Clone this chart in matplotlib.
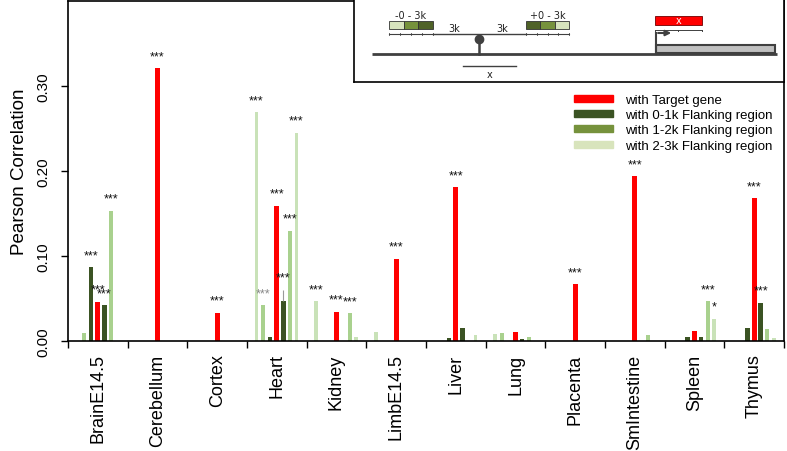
import numpy as np
import matplotlib
matplotlib.use("Agg")
import matplotlib.pyplot as plt
from matplotlib.patches import Rectangle, Patch

plt.rcParams['font.family'] = ['Liberation Sans', 'DejaVu Sans']

# data
tissues = ['BrainE14.5', 'Cerebellum', 'Cortex', 'Heart', 'Kidney', 'LimbE14.5',
           'Liver', 'Lung', 'Placenta', 'SmIntestine', 'Spleen', 'Thymus']
target = [0.046, 0.321, 0.033, 0.159, 0.0345, 0.097, 0.181, 0.011, 0.0667, 0.194, 0.0114, 0.168]
up1k = [0.087, 0, 0, 0.005, 0, 0, 0.003, 0, 0, 0, 0.0047, 0.0149]
up2k = [0.010, 0, 0, 0.042, 0, 0, 0, 0.009, 0, 0, 0, 0]
up3k = [0, 0, 0, 0.269, 0.047, 0.0106, 0, 0.0083, 0, 0, 0, 0]
down1k = [0.042, 0, 0, 0.0475, 0, 0, 0.0158, 0.0024, 0, 0, 0.0052, 0.045]
down2k = [0.153, 0, 0, 0.130, 0.0326, 0, 0, 0.0047, 0, 0.007, 0.047, 0.0138]
down3k = [0, 0, 0, 0.245, 0.005, 0, 0.0067, 0, 0, 0, 0.026, 0.003]
down1k_err = [0, 0, 0, 0.013, 0, 0, 0, 0, 0, 0, 0, 0]

# significance marks: (series, tissue index, text)
stars = [('up1k', 0, '***'), ('target', 0, '***'), ('down1k', 0, '***'), ('down2k', 0, '***'),
         ('target', 1, '***'), ('target', 2, '***'),
         ('up3k', 3, '***'), ('up2k', 3, '***'), ('target', 3, '***'), ('down1k', 3, '***'),
         ('down2k', 3, '***'), ('down3k', 3, '***'),
         ('up3k', 4, '***'), ('target', 4, '***'), ('down2k', 4, '***'),
         ('target', 5, '***'), ('target', 6, '***'), ('target', 8, '***'), ('target', 9, '***'),
         ('down2k', 10, '***'), ('down3k', 10, '*'),
         ('target', 11, '***'), ('down1k', 11, '***')]
faint_stars = [('up2k', 3)]

series = {'up3k': up3k, 'up2k': up2k, 'up1k': up1k, 'target': target,
          'down1k': down1k, 'down2k': down2k, 'down3k': down3k}

RED = '#ff0000'
DARK = '#3b5323'
LIGHT = '#a9d18e'
PALE = '#c9e2b8'
# offset, width, colour for each slot
style = {'up3k': (-0.34, 0.058, PALE), 'up2k': (-0.23, 0.067, LIGHT), 'up1k': (-0.115, 0.078, DARK),
         'target': (0.0, 0.084, RED),
         'down1k': (0.11, 0.078, DARK), 'down2k': (0.22, 0.067, LIGHT), 'down3k': (0.33, 0.058, PALE)}

W, H = 787, 452
fig = plt.figure(figsize=(W / 100, H / 100), dpi=100)
ax = fig.add_axes([68 / W, (H - 342) / H, (784 - 68) / W, 340 / H])

x = np.arange(len(tissues))
for name, vals in series.items():
    off, w, c = style[name]
    ax.bar(x + off, vals, width=w, color=c, linewidth=0)

err = np.array(down1k_err)
m = err > 0
ax.vlines(x[m] + style['down1k'][0], np.array(down1k)[m], np.array(down1k)[m] + err[m],
          color='#999999', lw=0.8)

for name, i, txt in stars:
    top = series[name][i] + (down1k_err[i] if name == 'down1k' else 0)
    col = '#888888' if (name, i) in faint_stars else '#111111'
    ax.annotate(txt, (x[i] + style[name][0], top), xytext=(0, 6.5), textcoords='offset points',
                ha='center', va='baseline', fontsize=9, color=col)

ax.set_xlim(-0.5, 11.5)
ax.set_ylim(0, 0.4)
ax.set_xticks(x)
ax.set_xticklabels(tissues, rotation=90, fontsize=13)
ax.set_xticks(np.arange(-0.5, 12, 1), minor=True)
ax.tick_params(axis='x', which='major', length=0, pad=9)
ax.tick_params(axis='x', which='minor', length=5, width=1)
ax.set_yticks([0, 0.1, 0.2, 0.3])
ax.set_yticklabels(['%.2f' % v for v in [0, 0.1, 0.2, 0.3]], rotation=90, va='center', fontsize=11)
ax.tick_params(axis='y', length=5, width=1, pad=8)
ax.set_ylabel('Pearson Correlation', fontsize=13.5, labelpad=6)
for s in ax.spines.values():
    s.set_linewidth(1.2)

handles = [Patch(color=RED), Patch(color=DARK), Patch(color='#76923c'), Patch(color='#d8e4bc')]
labels = ['with Target gene', 'with 0-1k Flanking region', 'with 1-2k Flanking region',
          'with 2-3k Flanking region']
fig.legend(handles, labels, loc='upper left', bbox_to_anchor=(562 / W, (H - 83) / H),
           frameon=False, fontsize=9.5, handlelength=3.0, handleheight=0.45,
           handletextpad=0.9, labelspacing=0.25, borderpad=0.4)

# inset schematic, drawn in pixel units
ins = fig.add_axes([354 / W, (H - 83) / H, (784 - 354) / W, 83 / H])
ins.set_xlim(354, 784)
ins.set_ylim(83, 0)
ins.set_xticks([])
ins.set_yticks([])
for s in ins.spines.values():
    s.set_linewidth(1.2)
g = '#404040'
ifont = dict(family='DejaVu Sans', fontsize=7, color='#222222')
ins.plot([372, 777], [55, 55], color=g, lw=2, solid_capstyle='butt')
ins.add_patch(Rectangle((656, 45.7), 119, 8.5, fc='#c0c0c0', ec=g, lw=1.5))
ins.plot([656, 656], [54, 34], color=g, lw=1.5)
ins.annotate('', xy=(674, 34), xytext=(655.3, 34),
             arrowprops=dict(arrowstyle='-|>', color=g, lw=1.5, mutation_scale=8))
ins.add_patch(Rectangle((655, 17.3), 46.7, 8.4, fc='#ff0000', ec='#700000', lw=0.6))
ins.text(678.3, 21.3, 'x', ha='center', va='center', family='DejaVu Sans', fontsize=7, color='white')
ins.plot([655, 701.7], [30.7, 30.7], color=g, lw=0.7)
for tx in [655, 678.3, 701.7]:
    ins.plot([tx, tx], [30.7, 32.2], color=g, lw=0.7)
ins.plot([479.3, 479.3], [55, 40], color=g, lw=1.8)
ins.plot([479.3], [39.5], 'o', color=g, ms=6)
ins.plot([433, 525.7], [35, 35], color=g, lw=1)
ins.text(454, 29, '3k', ha='center', va='center', **ifont)
ins.text(502, 29, '3k', ha='center', va='center', **ifont)
for x0, cols in [(389, ['#d7e4bd', '#76923c', '#4f6228']), (525.7, ['#4f6228', '#76923c', '#d7e4bd'])]:
    bw = 43.6 / 3
    for k, c in enumerate(cols):
        ins.add_patch(Rectangle((x0 + k * bw, 22.3), bw, 7.7, fc=c, ec='#333333', lw=0.6))
    ins.plot([x0, x0 + 43.6], [35, 35], color=g, lw=0.8)
    for k in range(5):
        ins.plot([x0 + k * 43.6 / 4] * 2, [33.8, 36.2], color=g, lw=0.6)
ins.text(411, 16, '-0 - 3k', ha='center', va='center', **ifont)
ins.text(547.5, 16, '+0 - 3k', ha='center', va='center', **ifont)
ins.plot([462.7, 515.7], [66.7, 66.7], color=g, lw=1)
ins.text(489.3, 75, 'x', ha='center', va='center', **ifont)

fig.savefig('out.png', dpi=100)
